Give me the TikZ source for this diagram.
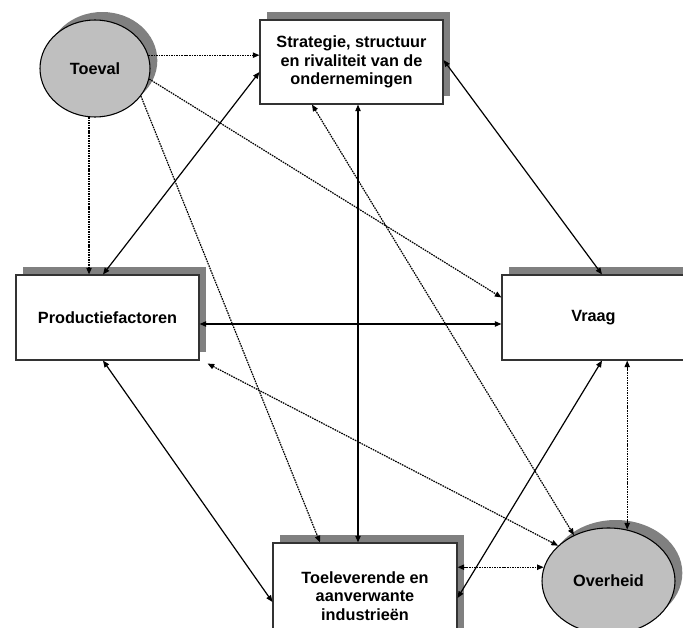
\documentclass[tikz,border=0pt]{standalone}
\usepackage{fontspec}
\setmainfont{Liberation Sans}
\usetikzlibrary{calc,shadows,arrows.meta,shapes.geometric}

\tikzset{
  schaduw/.style={drop shadow={shadow xshift=5.5pt, shadow yshift=6pt, fill=black!50, opacity=1}},
  blok/.style={draw=black!80, line width=0.8pt, fill=white, schaduw, inner sep=2pt,
    minimum width=137.25pt, minimum height=63.75pt, align=center,
    font=\fontsize{12.2}{14}\selectfont\bfseries},
  ovaal/.style={ellipse, draw=black, line width=0.8pt, fill=black!25, schaduw,
    font=\fontsize{12.2}{14}\selectfont\bfseries},
  pijl/.style={{Triangle[length=5pt,width=4pt]}-{Triangle[length=5pt,width=4pt]}, line width=0.9pt},
  stippel/.style={pijl, dash pattern=on 1.2pt off 0.7pt, line width=0.9pt},
  stippeleen/.style={-{Triangle[length=5pt,width=4pt]}, dash pattern=on 1.2pt off 0.7pt, line width=0.9pt}
}

\begin{document}
\begin{tikzpicture}[x=0.75pt,y=-0.75pt]
\useasboundingbox (0,0) rectangle (683,628);
\clip (0,0) rectangle (683,628);
\fill[white] (0,0) rectangle (683,628);

\node[ovaal, minimum width=82.5pt, minimum height=72.75pt] (toeval) at (95,68.5) {Toeval};
\node[blok, minimum height=63pt] (strat) at (351.5,62) {Strategie, structuur\\en rivaliteit van de\\ondernemingen};
\node[blok] (prod) at (107.5,317.5) {Productiefactoren};
\node[blok] (vraag) at (593.5,317.5) {Vraag};
\node[blok, minimum width=138pt, minimum height=79.5pt] (toel) at (365,596) {Toeleverende en\\aanverwante\\industrieën};
\node[ovaal, minimum width=99.75pt, minimum height=79.5pt] (overh) at (608.5,581) {Overheid};

\draw[stippeleen] (toeval.14) -- (toeval.14 -| strat.west);
\draw[stippeleen] (toeval.263) -- (toeval.263 |- prod.north);
\draw[stippeleen] (toeval.349) -- ($(vraag.west)+(0,-20)$);
\draw[stippeleen] (toeval.329) -- ($(toel.north)+(-45,0)$);

\draw[pijl] ($(strat.west)+(0,10)$) -- ($(prod.north)+(-4.5,0)$);
\draw[pijl] ($(strat.south)+(6.5,0)$) -- ($(toel.north)+(-7,0)$);
\draw[pijl] ($(strat.east)+(0,-2)$) -- ($(vraag.north)+(8.5,0)$);
\draw[pijl] ($(prod.east)+(0,6.5)$) -- ($(vraag.west)+(0,6.5)$);
\draw[pijl] ($(prod.south)+(-4.5,0)$) -- ($(toel.west)+(0,6)$);
\draw[pijl] ($(vraag.south)+(8.5,0)$) -- ($(toel.east)+(0,2)$);

\draw[stippel] ($(strat.south)+(-39.5,0)$) -- (overh.127);
\draw[stippel] ($(prod.south east)+(8,3)$) -- (overh.145);
\draw[stippel] (overh.70 |- vraag.south) -- (overh.70);
\draw[stippel] (overh.168 -| toel.east) -- (overh.168);
\end{tikzpicture}
\end{document}
